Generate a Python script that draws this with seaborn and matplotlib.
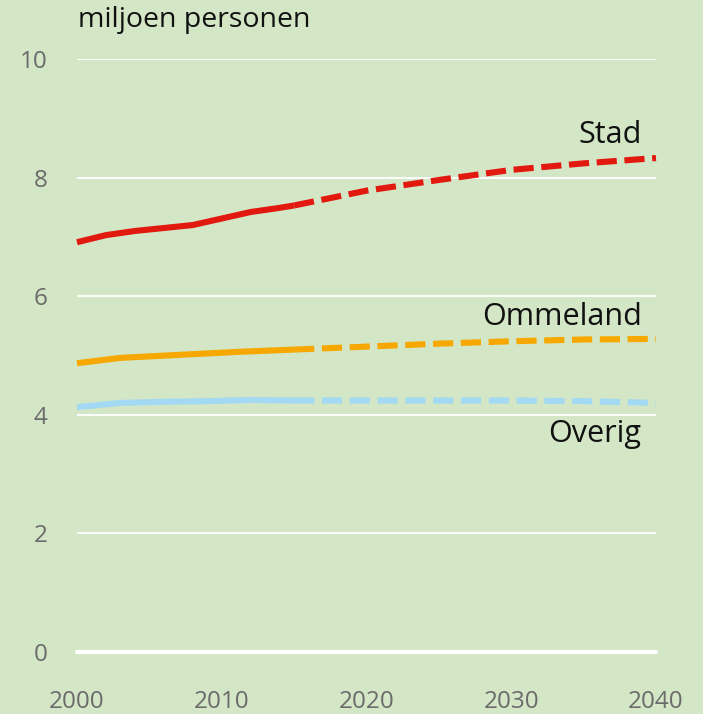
import matplotlib
matplotlib.use("Agg")
import matplotlib.pyplot as plt
import seaborn as sns
import pandas as pd

# ---- data (miljoen personen) ----
stad_hist_years = [2000, 2002, 2004, 2006, 2008, 2010, 2012, 2014, 2015]
stad_hist = [6.91, 7.03, 7.10, 7.15, 7.20, 7.31, 7.42, 7.49, 7.53]
stad_proj_years = [2015, 2020, 2025, 2030, 2035, 2040]
stad_proj = [7.53, 7.78, 7.96, 8.13, 8.24, 8.33]

omm_hist_years = [2000, 2003, 2007, 2011, 2015]
omm_hist = [4.87, 4.96, 5.01, 5.06, 5.10]
omm_proj_years = [2015, 2020, 2025, 2030, 2035, 2040]
omm_proj = [5.10, 5.15, 5.20, 5.24, 5.27, 5.28]

ov_hist_years = [2000, 2003, 2006, 2009, 2012, 2015]
ov_hist = [4.13, 4.20, 4.22, 4.23, 4.25, 4.24]
ov_proj_years = [2015, 2020, 2025, 2030, 2035, 2040]
ov_proj = [4.24, 4.24, 4.24, 4.24, 4.23, 4.20]

series_names = ["Stad", "Ommeland", "Overig"]
colors = {"Stad": "#e2190f", "Ommeland": "#f7a800", "Overig": "#a3d9f3"}
label_y = {"Stad": 8.72, "Ommeland": 5.65, "Overig": 3.68}

x_ticks = [2000, 2010, 2020, 2030, 2040]
y_ticks = [0, 2, 4, 6, 8, 10]

BG = "#d3e6c5"

sns.set_theme(style="white")
plt.rcParams["font.family"] = ["Open Sans", "DejaVu Sans"]

fig = plt.figure(figsize=(7.03, 7.14), dpi=100, facecolor=BG)
ax = fig.add_axes([77 / 703, 62 / 714, (656 - 77) / 703, (652 - 59) / 714])
ax.set_facecolor(BG)

data = {
    "Stad": (stad_hist_years, stad_hist, stad_proj_years, stad_proj),
    "Ommeland": (omm_hist_years, omm_hist, omm_proj_years, omm_proj),
    "Overig": (ov_hist_years, ov_hist, ov_proj_years, ov_proj),
}

# gridlines
for y in y_ticks[1:]:
    ax.axhline(y, color="white", lw=1.3, zorder=1)
ax.axhline(0, color="white", lw=3, zorder=1, clip_on=False)

for name in series_names:
    hy, hv, py, pv = data[name]
    dfh = pd.DataFrame({"jaar": hy, "waarde": hv})
    dfp = pd.DataFrame({"jaar": py, "waarde": pv})
    sns.lineplot(data=dfh, x="jaar", y="waarde", ax=ax, color=colors[name],
                 lw=4.4, zorder=3, clip_on=False, solid_capstyle="butt")
    line = sns.lineplot(data=dfp, x="jaar", y="waarde", ax=ax, color=colors[name],
                        lw=4.4, zorder=3, clip_on=False).lines[-1]
    line.set_dashes((3.3, 1.25))
    line.set_dash_capstyle("butt")
    ax.text(2039.0, label_y[name], name, ha="right", va="center",
            fontsize=22, color="#111111")

ax.set_xlim(2000, 2040)
ax.set_ylim(0, 10)
ax.set_xticks(x_ticks)
ax.set_yticks(y_ticks)
ax.set_xlabel("")
ax.set_ylabel("")
for s in ax.spines.values():
    s.set_visible(False)
ax.tick_params(axis="x", length=13, width=1.3, color="white", direction="out",
               pad=14, labelsize=17.5, labelcolor="#6b6b6b")
ax.tick_params(axis="y", length=0, pad=21, labelsize=17.5, labelcolor="#6b6b6b")

fig.text(78 / 703, 1 - 20 / 714, "miljoen personen", fontsize=20.5,
         color="#111111", ha="left", va="center")

fig.savefig("out.png", dpi=100, facecolor=BG)
